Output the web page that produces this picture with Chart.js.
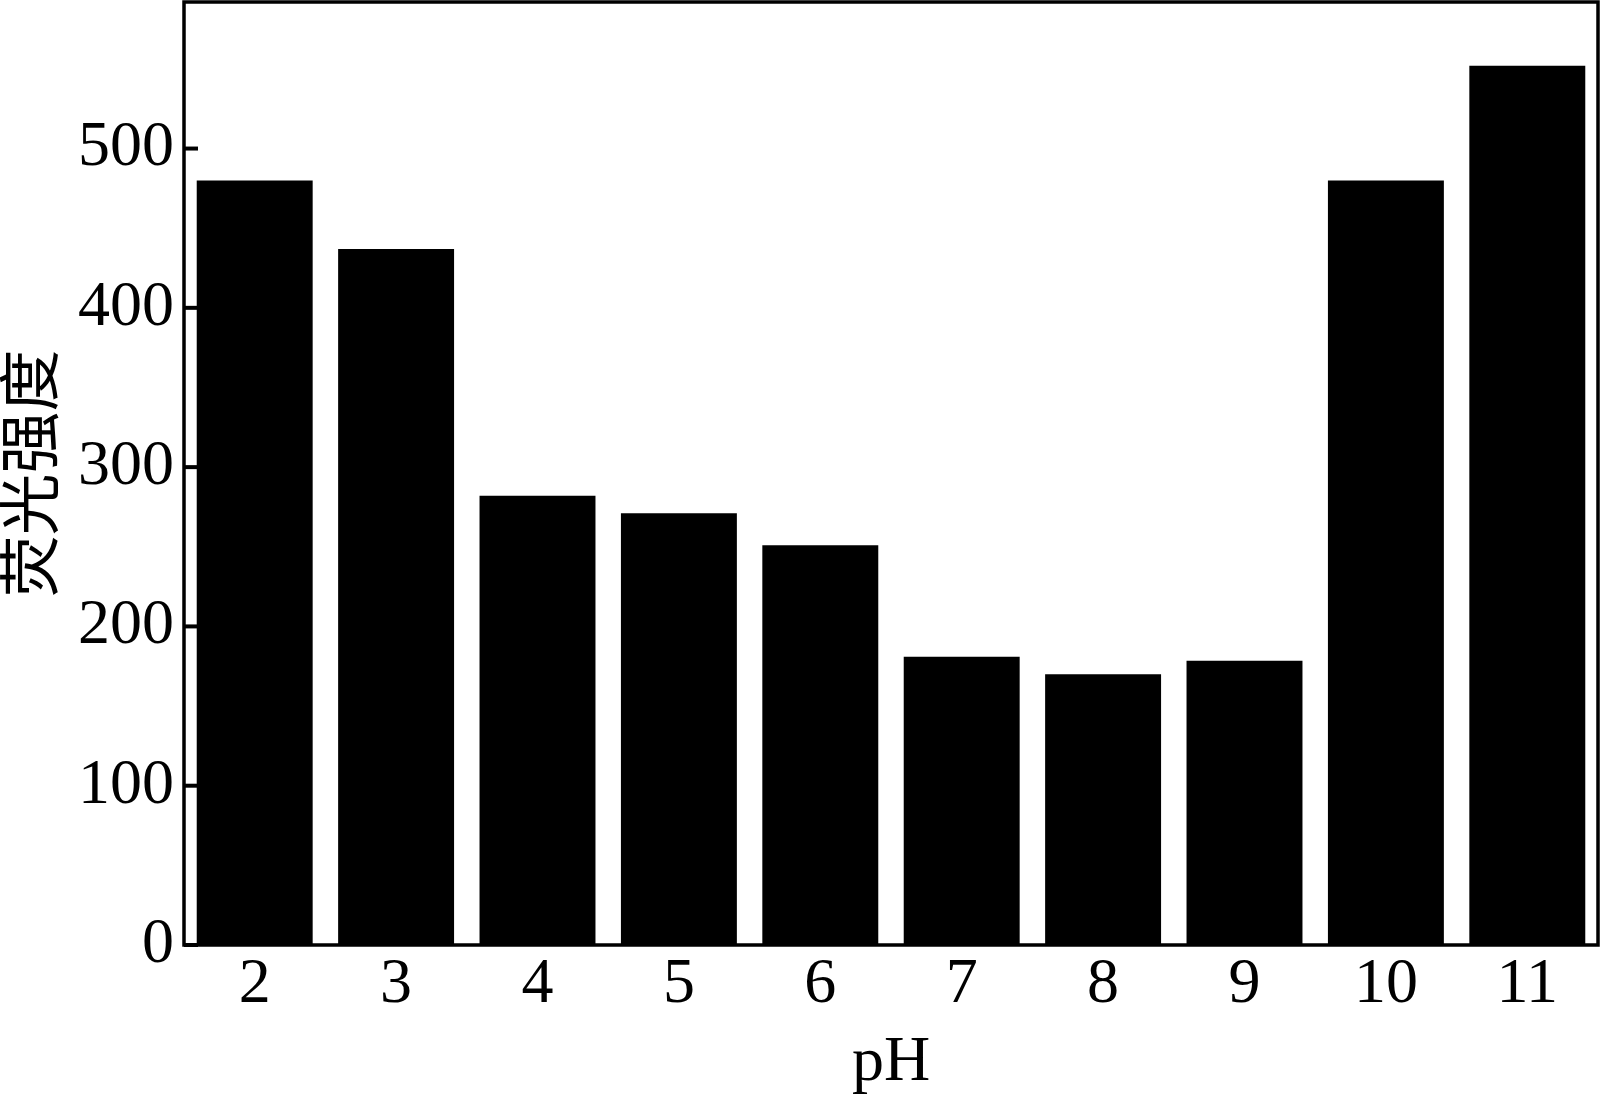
<!DOCTYPE html>
<html>
<head>
<meta charset="utf-8">
<script src="https://cdn.jsdelivr.net/npm/chart.js@4"></script>
<style>
  html, body { margin: 0; padding: 0; background: #fff; }
  #wrap { width: 1601px; height: 1106px; }
</style>
</head>
<body>
<div id="wrap"><canvas id="phChart" width="1601" height="1106"></canvas></div>
<script>
// --- dados ---
const phLabels = ['2', '3', '4', '5', '6', '7', '8', '9', '10', '11'];
const intensity = [480, 437, 282, 271, 251, 181, 170, 178.5, 480, 552];
const yTicks = [0, 100, 200, 300, 400, 500];

const serif = "'Liberation Serif', 'Times New Roman', 'Noto Sans CJK SC', serif";

// moldura + ticks para dentro
const framePlugin = {
    id: 'frame',
    afterDraw(chart) {
        const { ctx, chartArea: a } = chart;
        const y = chart.scales.y;
        ctx.save();
        ctx.strokeStyle = '#000';
        ctx.lineWidth = 3.5;
        ctx.strokeRect(a.left, a.top, a.right - a.left, a.bottom - a.top);
        ctx.lineWidth = 4;
        y.ticks.forEach(t => {
            const py = y.getPixelForValue(t.value);
            ctx.beginPath();
            ctx.moveTo(a.left, py);
            ctx.lineTo(a.left + 14, py);
            ctx.stroke();
        });
        ctx.restore();
    }
};

new Chart(document.getElementById('phChart'), {
    type: 'bar',
    data: {
        labels: phLabels,
        datasets: [{
            data: intensity,
            backgroundColor: '#000',
            borderWidth: 0,
            barPercentage: 0.82,
            categoryPercentage: 1
        }]
    },
    options: {
        responsive: false,
        animation: false,
        layout: { padding: { top: 2, right: 3, left: 0, bottom: 0 } },
        plugins: { legend: { display: false }, tooltip: { enabled: false } },
        scales: {
            x: {
                grid: { display: false, drawTicks: false },
                border: { display: false },
                ticks: { color: '#000', font: { family: serif, size: 64 }, padding: 2, maxRotation: 0 },
                title: {
                    display: true, text: 'pH', color: '#000',
                    font: { family: serif, size: 64 }, padding: { top: 0, bottom: 4 }
                },
                afterFit(scale) {
                    scale.height = 161;
                    scale.paddingLeft = 0;
                    scale.paddingRight = 0;
                }
            },
            y: {
                min: 0,
                max: 592,
                grid: { display: false, drawTicks: false },
                border: { display: false },
                ticks: { color: '#000', font: { family: serif, size: 64 }, padding: 10, stepSize: 100 },
                afterBuildTicks(scale) { scale.ticks = yTicks.map(v => ({ value: v })); },
                title: {
                    display: true, text: '荧光强度', color: '#000',
                    font: { family: serif, size: 62 }, padding: 0
                },
                afterFit(scale) {
                    scale.width = 184;
                    scale.paddingTop = 0;
                    scale.paddingBottom = 0;
                }
            }
        }
    },
    plugins: [framePlugin]
});
</script>
</body>
</html>
